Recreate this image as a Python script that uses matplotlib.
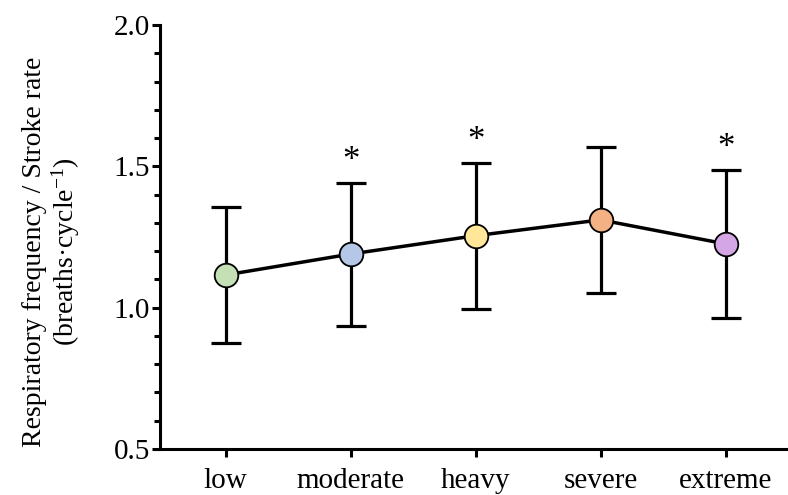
import matplotlib
matplotlib.use("Agg")
import matplotlib.pyplot as plt
from matplotlib.ticker import MultipleLocator

plt.rcParams['font.family'] = ['Liberation Serif', 'DejaVu Serif']
plt.rcParams['mathtext.fontset'] = 'custom'
plt.rcParams['mathtext.rm'] = 'Liberation Serif'
plt.rcParams['mathtext.default'] = 'regular'

categories = ["low", "moderate", "heavy", "severe", "extreme"]
means = [1.116, 1.190, 1.255, 1.311, 1.226]
sds = [0.242, 0.253, 0.259, 0.258, 0.263]
significant = [False, True, True, False, True]
colors = ["#c5e0b4", "#b4c7e7", "#ffe699", "#f4b183", "#d5a6e6"]

fig = plt.figure(figsize=(7.88, 4.95), dpi=100)
ax = fig.add_axes([0.203, 0.093, 0.797, 0.856])

x = list(range(len(categories)))
ax.errorbar(x, means, yerr=sds, fmt='none', ecolor='black', elinewidth=2.3,
            capsize=10.5, capthick=2.3, zorder=2)
ax.plot(x, means, color='black', lw=2.5, zorder=3)
for xi, m, c in zip(x, means, colors):
    ax.plot(xi, m, 'o', ms=17, mfc=c, mec='black', mew=1.3, zorder=4)
for xi, m, s, sig in zip(x, means, sds, significant):
    if sig:
        ax.annotate('*', (xi, m + s), xytext=(0, 3), textcoords='offset points',
                    ha='center', va='bottom', fontsize=25)

ax.set_xlim(-0.525, 4.5)
ax.set_ylim(0.5, 2.0)
ax.set_xticks(x)
ax.set_xticklabels(categories)
ax.yaxis.set_major_locator(MultipleLocator(0.5))
ax.yaxis.set_minor_locator(MultipleLocator(0.1))
ax.yaxis.set_major_formatter(plt.FormatStrFormatter('%.1f'))

for side in ['top', 'right']:
    ax.spines[side].set_visible(False)
for side in ['left', 'bottom']:
    ax.spines[side].set_linewidth(2.2)

ax.tick_params(axis='both', which='major', direction='out', length=6, width=2.2,
               labelsize=21, pad=1)
ax.tick_params(axis='y', which='minor', direction='out', length=4, width=2.2)
ax.tick_params(axis='x', pad=8)

ax.set_ylabel("Respiratory frequency / Stroke rate\n(breaths·cycle$^{-1}$)",
              fontsize=20, linespacing=1.1)
ax.yaxis.set_label_coords(-0.124, 0.465)

fig.savefig("out.png", dpi=100)
